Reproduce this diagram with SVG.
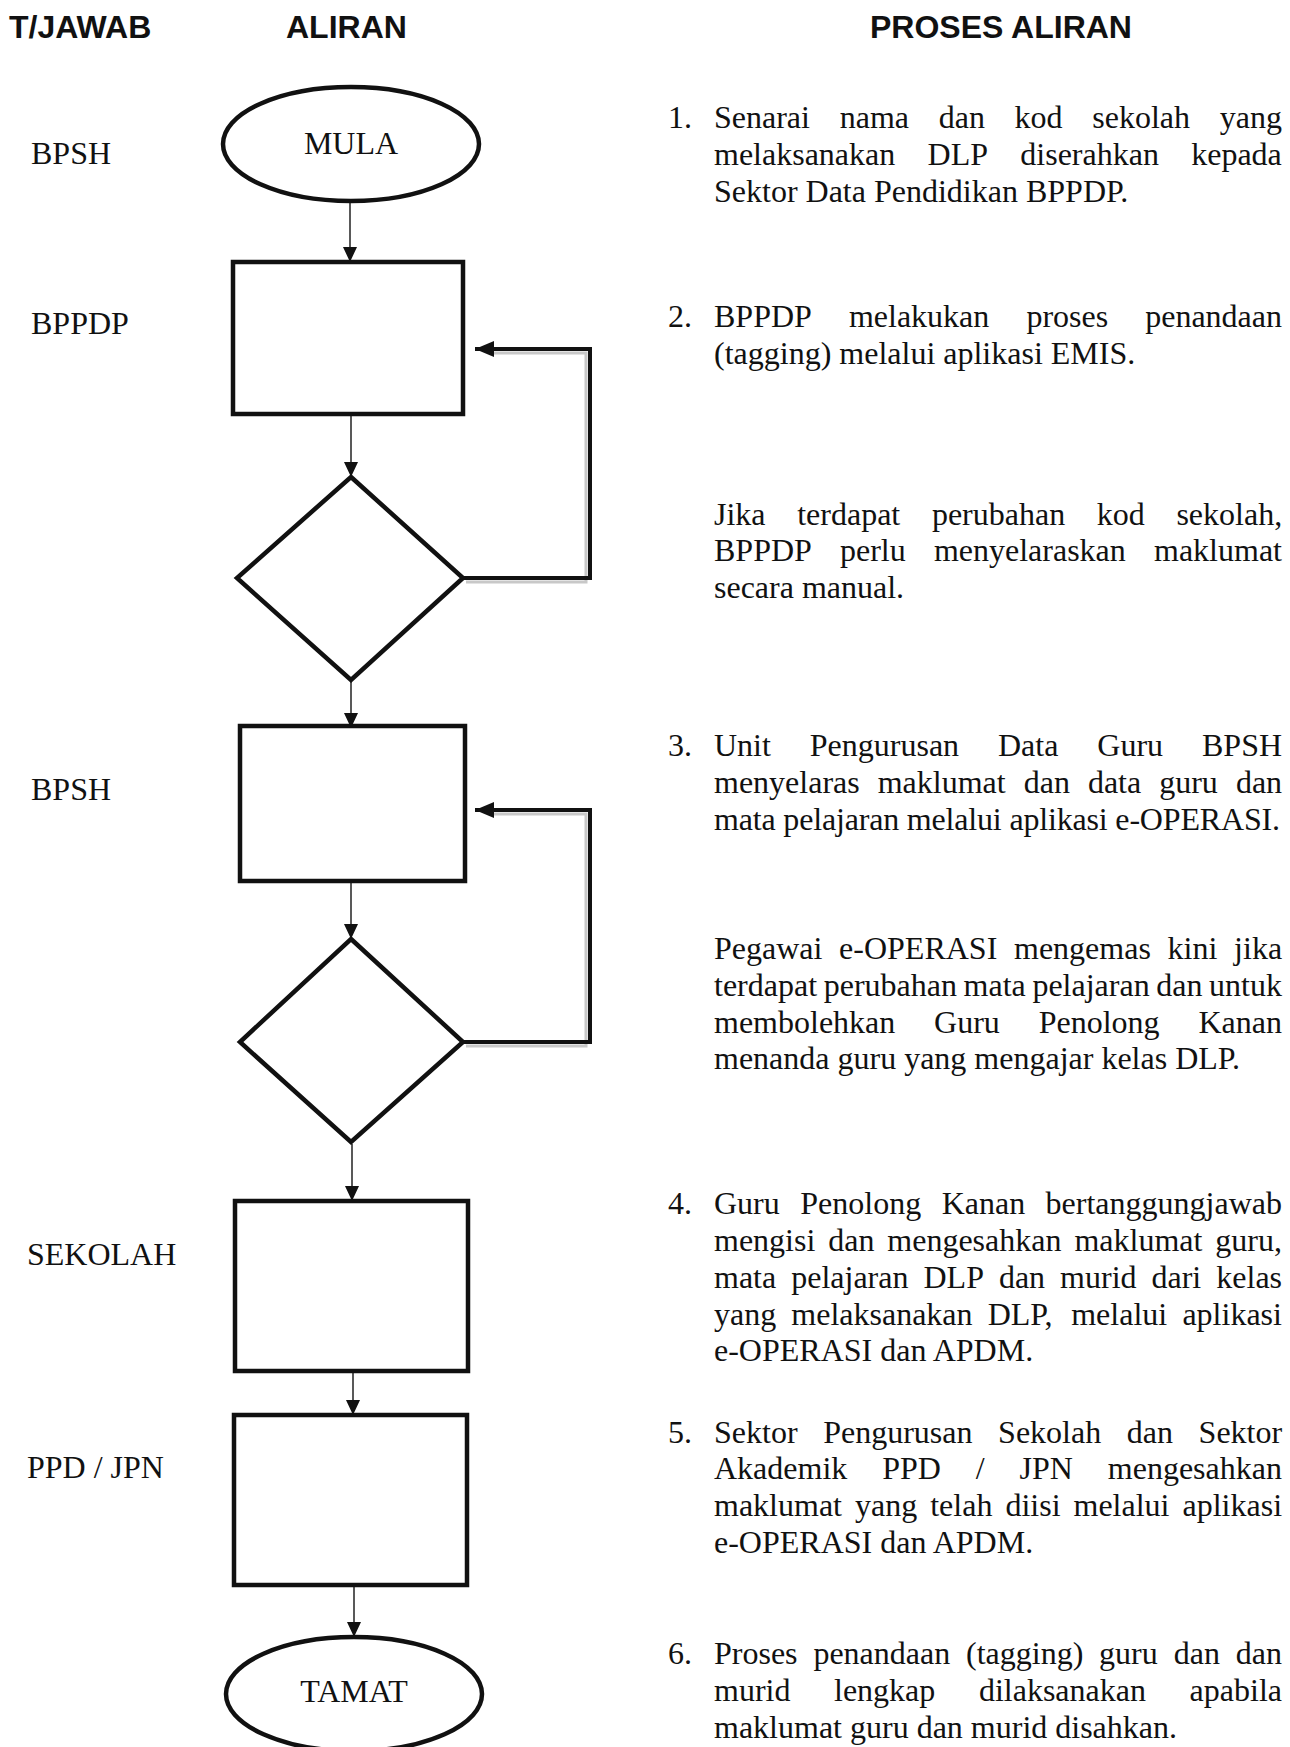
<svg xmlns="http://www.w3.org/2000/svg" width="1290" height="1747" viewBox="0 0 1290 1747">
<style>
.hd{font-family:"Liberation Sans",Arial,sans-serif;font-weight:bold;font-size:32px;fill:#111}
.t{font-family:"Liberation Serif","Times New Roman",serif;font-size:32px;fill:#111}
.shape{fill:#fff;stroke:#111;stroke-width:4.5}
.conn{fill:none;stroke:#222;stroke-width:1.5}
.loop{fill:none;stroke:#111;stroke-width:4}
.shadow{fill:none;stroke:#c8c8c8;stroke-width:3}
</style>
<defs>
<marker id="ah" markerUnits="userSpaceOnUse" markerWidth="16" markerHeight="16" refX="15" refY="8" orient="auto">
<path d="M0,1 L15,8 L0,15 Z" fill="#111"/>
</marker>
<marker id="ahL" markerUnits="userSpaceOnUse" markerWidth="20" markerHeight="18" refX="19" refY="9" orient="auto">
<path d="M0,1 L19,9 L0,17 Z" fill="#111"/>
</marker>
</defs>

<g id="headers">
<text class="hd" x="9" y="38">T/JAWAB</text>
<text class="hd" x="286" y="38">ALIRAN</text>
<text class="hd" x="870" y="38">PROSES ALIRAN</text>
</g>

<g id="labels">
<text class="t" x="31" y="164">BPSH</text>
<text class="t" x="31" y="334">BPPDP</text>
<text class="t" x="31" y="800">BPSH</text>
<text class="t" x="27" y="1265">SEKOLAH</text>
<text class="t" x="27" y="1478">PPD / JPN</text>
</g>

<g id="connectors">
<line class="conn" x1="350" y1="201" x2="350" y2="262" marker-end="url(#ah)"/>
<line class="conn" x1="351" y1="416" x2="351" y2="477" marker-end="url(#ah)"/>
<line class="conn" x1="351" y1="682" x2="351" y2="728" marker-end="url(#ah)"/>
<line class="conn" x1="351" y1="883" x2="351" y2="939" marker-end="url(#ah)"/>
<line class="conn" x1="352" y1="1144" x2="352" y2="1201" marker-end="url(#ah)"/>
<line class="conn" x1="353" y1="1373" x2="353" y2="1415" marker-end="url(#ah)"/>
<line class="conn" x1="354" y1="1587" x2="354" y2="1637" marker-end="url(#ah)"/>
<polyline class="shadow" points="466,582 586,582 586,353 490,353"/>
<polyline class="loop" points="463,578 590,578 590,349 475,349" marker-end="url(#ahL)"/>
<polyline class="shadow" points="466,1046 586,1046 586,814 490,814"/>
<polyline class="loop" points="463,1042 590,1042 590,810 475,810" marker-end="url(#ahL)"/>
</g>

<g id="mula">
<ellipse class="shape" cx="351" cy="144" rx="128" ry="57"/>
<text class="t" x="351" y="154" text-anchor="middle">MULA</text>
</g>
<g id="box1"><rect class="shape" x="233" y="262" width="230" height="152"/></g>
<g id="dec1"><polygon class="shape" points="351,477 463,578 351,680 237,578"/></g>
<g id="box2"><rect class="shape" x="240" y="726" width="225" height="155"/></g>
<g id="dec2"><polygon class="shape" points="351,939 463,1042 351,1142 240,1042"/></g>
<g id="box3"><rect class="shape" x="235" y="1201" width="233" height="170"/></g>
<g id="box4"><rect class="shape" x="234" y="1415" width="233" height="170"/></g>
<g id="tamat">
<ellipse class="shape" cx="354" cy="1694" rx="128" ry="57"/>
<text class="t" x="354" y="1702" text-anchor="middle">TAMAT</text>
</g>

<g id="proses">
<text class="t" x="668" y="128">1.</text>
<text class="t" y="128"><tspan x="714">Senarai</tspan><tspan x="839.7">nama</tspan><tspan x="938.7">dan</tspan><tspan x="1014.6">kod</tspan><tspan x="1092.3">sekolah</tspan><tspan x="1219.8">yang</tspan></text>
<text class="t" y="165"><tspan x="714">melaksanakan</tspan><tspan x="927.6">DLP</tspan><tspan x="1020.3">diserahkan</tspan><tspan x="1191.2">kepada</tspan></text>
<text class="t" x="714" y="202">Sektor Data Pendidikan BPPDP.</text>

<text class="t" x="668" y="327">2.</text>
<text class="t" y="327"><tspan x="714">BPPDP</tspan><tspan x="848.9">melakukan</tspan><tspan x="1026.4">proses</tspan><tspan x="1145.2">penandaan</tspan></text>
<text class="t" x="714" y="364">(tagging) melalui aplikasi EMIS.</text>

<text class="t" y="525"><tspan x="714">Jika</tspan><tspan x="797.2">terdapat</tspan><tspan x="931.9">perubahan</tspan><tspan x="1096.8">kod</tspan><tspan x="1176.4">sekolah,</tspan></text>
<text class="t" y="561"><tspan x="714">BPPDP</tspan><tspan x="840">perlu</tspan><tspan x="933.9">menyelaraskan</tspan><tspan x="1154">maklumat</tspan></text>
<text class="t" x="714" y="598">secara manual.</text>

<text class="t" x="668" y="756">3.</text>
<text class="t" y="756"><tspan x="714">Unit</tspan><tspan x="809.8">Pengurusan</tspan><tspan x="998">Data</tspan><tspan x="1097.3">Guru</tspan><tspan x="1202">BPSH</tspan></text>
<text class="t" y="793"><tspan x="714">menyelaras</tspan><tspan x="877.7">maklumat</tspan><tspan x="1023.7">dan</tspan><tspan x="1087.9">data</tspan><tspan x="1159.2">guru</tspan><tspan x="1235.9">dan</tspan></text>
<text class="t" x="714" y="830" textLength="566" lengthAdjust="spacing">mata pelajaran melalui aplikasi e-OPERASI.</text>

<text class="t" y="959"><tspan x="714">Pegawai</tspan><tspan x="839.1">e-OPERASI</tspan><tspan x="1014">mengemas</tspan><tspan x="1167.6">kini</tspan><tspan x="1234.1">jika</tspan></text>
<text class="t" y="996"><tspan x="714">terdapat</tspan><tspan x="823.7">perubahan</tspan><tspan x="963.6">mata</tspan><tspan x="1032.4">pelajaran</tspan><tspan x="1156.3">dan</tspan><tspan x="1209.1">untuk</tspan></text>
<text class="t" y="1033"><tspan x="714">membolehkan</tspan><tspan x="934.1">Guru</tspan><tspan x="1038.7">Penolong</tspan><tspan x="1198.5">Kanan</tspan></text>
<text class="t" x="714" y="1069">menanda guru yang mengajar kelas DLP.</text>

<text class="t" x="668" y="1214">4.</text>
<text class="t" y="1214"><tspan x="714">Guru</tspan><tspan x="800.3">Penolong</tspan><tspan x="941.7">Kanan</tspan><tspan x="1045.6">bertanggungjawab</tspan></text>
<text class="t" y="1251"><tspan x="714">mengisi</tspan><tspan x="828.2">dan</tspan><tspan x="887.3">mengesahkan</tspan><tspan x="1074.4">maklumat</tspan><tspan x="1215.3">guru,</tspan></text>
<text class="t" y="1288"><tspan x="714">mata</tspan><tspan x="791.2">pelajaran</tspan><tspan x="923.5">DLP</tspan><tspan x="998.9">dan</tspan><tspan x="1060.1">murid</tspan><tspan x="1151.5">dari</tspan><tspan x="1216.3">kelas</tspan></text>
<text class="t" y="1325"><tspan x="714">yang</tspan><tspan x="791.3">melaksanakan</tspan><tspan x="987.7">DLP,</tspan><tspan x="1071.2">melalui</tspan><tspan x="1182.4">aplikasi</tspan></text>
<text class="t" x="714" y="1361">e-OPERASI dan APDM.</text>

<text class="t" x="668" y="1443">5.</text>
<text class="t" y="1443"><tspan x="714">Sektor</tspan><tspan x="823.2">Pengurusan</tspan><tspan x="998.1">Sekolah</tspan><tspan x="1126.8">dan</tspan><tspan x="1198.6">Sektor</tspan></text>
<text class="t" y="1479"><tspan x="714">Akademik</tspan><tspan x="882.2">PPD</tspan><tspan x="975.8">/</tspan><tspan x="1019.6">JPN</tspan><tspan x="1107.8">mengesahkan</tspan></text>
<text class="t" y="1516"><tspan x="714">maklumat</tspan><tspan x="855">yang</tspan><tspan x="930.2">telah</tspan><tspan x="1005.4">diisi</tspan><tspan x="1073.5">melalui</tspan><tspan x="1182.5">aplikasi</tspan></text>
<text class="t" x="714" y="1553">e-OPERASI dan APDM.</text>

<text class="t" x="668" y="1664">6.</text>
<text class="t" y="1664"><tspan x="714">Proses</tspan><tspan x="813.4">penandaan</tspan><tspan x="966">(tagging)</tspan><tspan x="1099.1">guru</tspan><tspan x="1173.7">dan</tspan><tspan x="1235.7">dan</tspan></text>
<text class="t" y="1701"><tspan x="714">murid</tspan><tspan x="834">lengkap</tspan><tspan x="978.9">dilaksanakan</tspan><tspan x="1189.6">apabila</tspan></text>
<text class="t" x="714" y="1738">maklumat guru dan murid disahkan.</text>
</g>
</svg>
